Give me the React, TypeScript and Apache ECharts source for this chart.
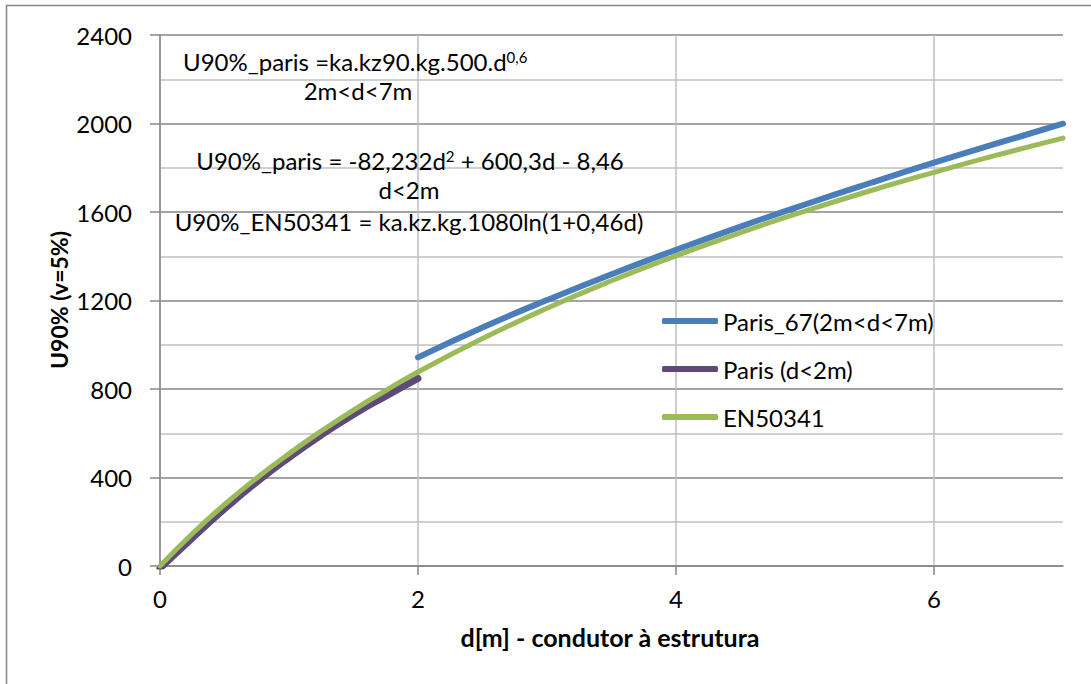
import React, { useEffect, useRef } from "react";
import * as echarts from "echarts";

// Paris_67 (2m<d<7m)
const parisLongD = [2, 2.5, 3, 3.5, 4, 4.5, 5, 5.5, 6, 6.5, 7];
const parisLongU = [943, 1078, 1202, 1319, 1429, 1534, 1634, 1730, 1823, 1912, 1999];

// Paris (d<2m)
const parisShortD = [0, 0.25, 0.5, 0.75, 1, 1.25, 1.5, 1.75, 2];
const parisShortU = [-10, 126, 258, 380, 490, 592, 685, 768, 848];

// EN50341
const enD = [0, 0.25, 0.5, 0.75, 1, 1.25, 1.5, 1.75, 2, 2.5, 3, 3.5, 4, 4.5, 5, 5.5, 6, 6.5, 7];
const enU = [0, 146, 278, 398, 508, 610, 705, 793, 877, 1028, 1165, 1289, 1402, 1507, 1604, 1695, 1779, 1859, 1934];

const xTickLabels = [0, 2, 4, 6];

const seriesNames = ["Paris_67(2m<d<7m)", "Paris (d<2m)", "EN50341"];
const FONT = "Lato, 'Open Sans', sans-serif";

const zip = (xs: number[], ys: number[]) => xs.map((x, i) => [x, ys[i]]);

export default function App() {
  const ref = useRef<HTMLDivElement>(null);
  useEffect(() => {
    if (!ref.current) return;
    const chart = echarts.init(ref.current, undefined, { renderer: "svg" });
    const AF = 24;
    const txt = (x: number, y: number, text: string, align: string, rich?: any) => ({
      type: "text",
      x,
      y,
      z: 10,
      style: {
        text,
        align,
        verticalAlign: "middle",
        fontFamily: FONT,
        fontSize: AF,
        fill: "#000",
        rich,
      },
    });
    const rich = {
      n: { fontFamily: FONT, fontSize: AF, fill: "#000" },
      s: { fontFamily: FONT, fontSize: 15, fill: "#000", verticalAlign: "top", padding: [0, 0, 8, 0] },
    };
    chart.setOption({
      animation: false,
      backgroundColor: "#fff",
      textStyle: { fontFamily: FONT },
      grid: { left: 160, top: 35, right: 28, bottom: 118, containLabel: false },
      legend: {
        orient: "vertical",
        left: 662,
        top: 309,
        padding: 0,
        icon: "roundRect",
        itemWidth: 56,
        itemHeight: 6,
        itemGap: 24,
        itemTextGap: 2,
        textStyle: { fontSize: 24, color: "#000", fontFamily: FONT },
        data: seriesNames,
      },
      xAxis: {
        type: "value",
        min: 0,
        max: 7,
        interval: 1,
        axisLine: { show: true, lineStyle: { color: "#868686", width: 1.5 } },
        axisTick: { show: true, length: 9, customValues: xTickLabels, lineStyle: { color: "#868686", width: 1.5 } },
        axisLabel: { customValues: xTickLabels, fontSize: 24, color: "#000", margin: 20, fontFamily: FONT },
        splitLine: { show: true, lineStyle: { color: "#bfbfbf", width: 1.5 } },
      },
      yAxis: {
        type: "value",
        min: 0,
        max: 2400,
        interval: 400,
        axisLine: { show: true, lineStyle: { color: "#868686", width: 1.5 } },
        axisTick: { show: true, length: 10, lineStyle: { color: "#868686", width: 1.5 } },
        axisLabel: {
          fontSize: 24,
          color: "#000",
          margin: 28,
          fontFamily: FONT,
          formatter: (v: number) => String(v),
        },
        splitLine: { show: true, lineStyle: { color: "#868686", width: 1.5 } },
        minorTick: { show: false, splitNumber: 2 },
        minorSplitLine: { show: true, lineStyle: { color: "#bfbfbf", width: 1.5 } },
      },
      series: [
        {
          name: seriesNames[0],
          type: "line",
          data: zip(parisLongD, parisLongU),
          smooth: true,
          symbol: "none",
          lineStyle: { color: "#4a7ebb", width: 6, cap: "round" },
          itemStyle: { color: "#4a7ebb" },
        },
        {
          name: seriesNames[1],
          type: "line",
          data: zip(parisShortD, parisShortU),
          smooth: true,
          symbol: "none",
          lineStyle: { color: "#5f497a", width: 7, cap: "round" },
          itemStyle: { color: "#5f497a" },
        },
        {
          name: seriesNames[2],
          type: "line",
          data: zip(enD, enU),
          smooth: true,
          symbol: "none",
          lineStyle: { color: "#9bbb59", width: 5, cap: "round" },
          itemStyle: { color: "#9bbb59" },
        },
      ],
      graphic: [
        {
          type: "rect",
          z: 0,
          shape: { x: 6.5, y: 5.5, width: 1200, height: 800 },
          style: { fill: "none", stroke: "#868686", lineWidth: 1.5 },
        },
        txt(183, 61, "{n|U90%_paris =ka.kz90.kg.500.d}{s|0,6}", "left", rich),
        txt(358, 90, "2m<d<7m", "center"),
        txt(410, 160, "{n|U90%_paris = -82,232d}{s|2}{n| + 600,3d - 8,46}", "center", rich),
        txt(409, 189, "d<2m", "center"),
        txt(409, 221, "U90%_EN50341 = ka.kz.kg.1080ln(1+0,46d)", "center"),
        {
          type: "text",
          x: 59,
          y: 300,
          rotation: Math.PI / 2,
          z: 10,
          style: {
            text: "U90% (v=5%)",
            align: "center",
            verticalAlign: "middle",
            fontFamily: FONT,
            fontWeight: "bold",
            fontSize: 23,
            fill: "#000",
          },
        },
        {
          type: "text",
          x: 610,
          y: 637,
          z: 10,
          style: {
            text: "d[m] - condutor à estrutura",
            align: "center",
            verticalAlign: "middle",
            fontFamily: FONT,
            fontWeight: "bold",
            fontSize: 25,
            fill: "#000",
          },
        },
      ],
    });
    return () => chart.dispose();
  }, []);
  return (
    <div
      ref={ref}
      style={{ position: "fixed", left: 0, top: 0, width: 1091, height: 684, background: "#fff" }}
    />
  );
}
